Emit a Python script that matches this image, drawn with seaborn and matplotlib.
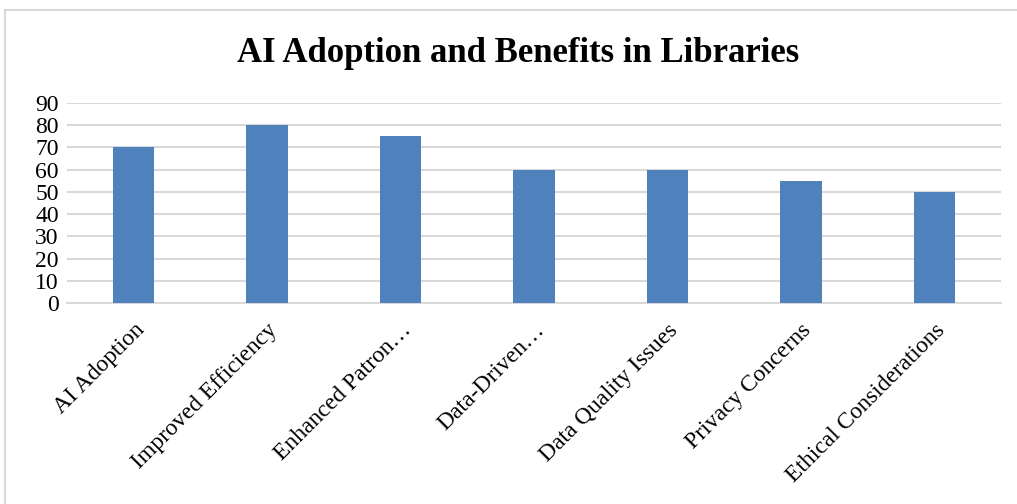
import matplotlib
matplotlib.use("Agg")
import matplotlib.pyplot as plt
import seaborn as sns
import pandas as pd
from matplotlib.patches import Rectangle

categories = ["AI Adoption", "Improved Efficiency", "Enhanced Patron\u2026", "Data-Driven\u2026",
              "Data Quality Issues", "Privacy Concerns", "Ethical Considerations"]
values = [70, 80, 75, 60, 60, 55, 50]
yticks = [0, 10, 20, 30, 40, 50, 60, 70, 80, 90]

sns.set_theme(style="white")
plt.rcParams['font.family'] = ['Liberation Serif', 'DejaVu Serif']
plt.rcParams['text.color'] = 'black'
plt.rcParams['xtick.color'] = 'black'
plt.rcParams['ytick.color'] = 'black'

df = pd.DataFrame({"cat": categories, "val": values})

fig = plt.figure(figsize=(10.17, 5.04), dpi=100)
ax = fig.add_axes([67/1017, 1-303/504, (1001-67)/1017, 200/504])
sns.barplot(data=df, x="cat", y="val", color="#4F81BD", width=0.31, ax=ax, saturation=1,
            zorder=3, edgecolor="none")

ax.set_ylim(0, 90)
ax.set_yticks(yticks)
ax.set_yticklabels([str(v) for v in yticks], fontsize=17, color="black")
ax.yaxis.grid(True, color="#D9D9D9", linewidth=1.5, zorder=0)
ax.set_axisbelow(True)
for s in ["top", "right", "left"]:
    ax.spines[s].set_visible(False)
ax.spines["bottom"].set_color("#D9D9D9")
ax.spines["bottom"].set_linewidth(1.5)
ax.tick_params(axis="both", length=0, pad=6)
ax.set_xlabel("")
ax.set_ylabel("")
ax.set_xticks(range(len(categories)))
ax.set_xticklabels(categories, rotation=45, ha="right", rotation_mode="anchor", fontsize=17,
                   color="black")
ax.tick_params(axis="x", pad=12)

fig.text(518/1017, 1-53/504, "AI Adoption and Benefits in Libraries", ha="center", va="center",
         fontsize=25, fontweight="bold", color="black")

fig.patches.append(Rectangle((5/1017, -0.1), 1.2, 1-10/504+0.1, transform=fig.transFigure,
                             fill=False, edgecolor="#D9D9D9", linewidth=1.5))

fig.savefig("out.png", dpi=100)
